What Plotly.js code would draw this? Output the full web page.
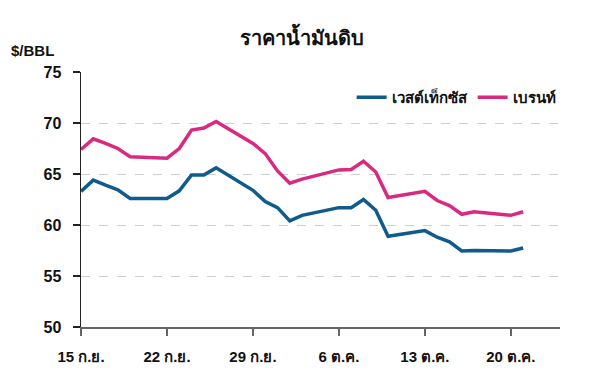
<!DOCTYPE html>
<html>
<head>
<meta charset="utf-8">
<script src="https://cdn.plot.ly/plotly-3.0.1.min.js"></script>
<style>html,body{margin:0;padding:0;background:#fff;}#chart{width:600px;height:376px;}</style>
</head>
<body>
<div id="chart"></div>
<script>
const dates = ['2025-09-15','2025-09-16','2025-09-17','2025-09-18','2025-09-19',
  '2025-09-22','2025-09-23','2025-09-24','2025-09-25','2025-09-26',
  '2025-09-29','2025-09-30','2025-10-01','2025-10-02','2025-10-03',
  '2025-10-06','2025-10-07','2025-10-08','2025-10-09','2025-10-10',
  '2025-10-13','2025-10-14','2025-10-15','2025-10-16','2025-10-17',
  '2025-10-20','2025-10-21'];
const wti = [63.3,64.4,63.9,63.45,62.6,
  62.6,63.35,64.9,64.9,65.6,
  63.4,62.3,61.7,60.4,60.95,
  61.7,61.7,62.5,61.45,58.9,
  59.45,58.8,58.35,57.45,57.5,
  57.45,57.75];
const brent = [67.4,68.45,68.0,67.5,66.7,
  66.55,67.5,69.3,69.5,70.15,
  68.0,67.0,65.3,64.1,64.5,
  65.4,65.45,66.25,65.2,62.7,
  63.3,62.4,61.9,61.05,61.3,
  60.95,61.3];
const seriesNames = ['เวสต์เท็กซัส','เบรนท์'];
const tickDates = ['2025-09-15','2025-09-22','2025-09-29','2025-10-06','2025-10-13','2025-10-20'];
const tickLabels = ['15 ก.ย.','22 ก.ย.','29 ก.ย.','6 ต.ค.','13 ต.ค.','20 ต.ค.'];
const yTicks = [50,55,60,65,70,75];

const FONT = 'Liberation Sans, Arial, Noto Sans, sans-serif';
const traces = [
  {x: dates, y: wti, name: '<b>' + seriesNames[0] + '</b>', type: 'scatter', mode: 'lines',
   line: {color: '#0f5b8d', width: 3.5}},
  {x: dates, y: brent, name: '<b>' + seriesNames[1] + '</b>', type: 'scatter', mode: 'lines',
   line: {color: '#d92a82', width: 3.5}}
];
const layout = {
  width: 600, height: 376,
  margin: {l: 81, r: 40, t: 72, b: 49},
  paper_bgcolor: '#fff', plot_bgcolor: '#fff',
  font: {family: FONT, color: '#111', size: 14},
  title: {text: '<b>ราคาน้ำมันดิบ</b>', x: 0.503, xanchor: 'center', y: 0.9, yanchor: 'middle',
          font: {size: 20, color: '#111', family: FONT}},
  showlegend: true,
  legend: {orientation: 'h', x: 0.565, xanchor: 'left', y: 0.9, yanchor: 'middle',
           itemwidth: 30, tracegroupgap: 0, bgcolor: 'rgba(0,0,0,0)',
           font: {size: 15, color: '#111', family: FONT}},
  xaxis: {type: 'date', range: ['2025-09-15', '2025-10-24'],
          tickvals: tickDates, ticktext: tickLabels.map(t => '<b>' + t + '</b>'),
          showgrid: false, zeroline: false,
          showline: true, linecolor: '#666', linewidth: 1.5,
          ticks: 'outside', ticklen: 7, tickcolor: '#666', tickwidth: 1.5,
          ticklabelstandoff: 8,
          tickfont: {size: 15, color: '#111', family: FONT}},
  yaxis: {range: [50, 75], tickvals: yTicks, ticktext: yTicks.map(v => '<b>' + v + '</b>'),
          showgrid: true, gridcolor: '#cfcfcf', griddash: 'dash', gridwidth: 1,
          zeroline: false, showline: true, linecolor: '#222', linewidth: 1.5,
          ticks: 'outside', ticklen: 7, tickcolor: '#222', tickwidth: 1.5,
          ticklabelstandoff: 8,
          tickfont: {size: 16, color: '#111', family: FONT}},
  annotations: [{text: '<b>$/BBL</b>', xref: 'paper', yref: 'paper', x: -0.15, y: 1.086,
                 xanchor: 'left', yanchor: 'middle', showarrow: false,
                 font: {size: 15, color: '#111', family: FONT}}]
};
Plotly.newPlot('chart', traces, layout, {displayModeBar: false, staticPlot: true});
</script>
</body>
</html>
